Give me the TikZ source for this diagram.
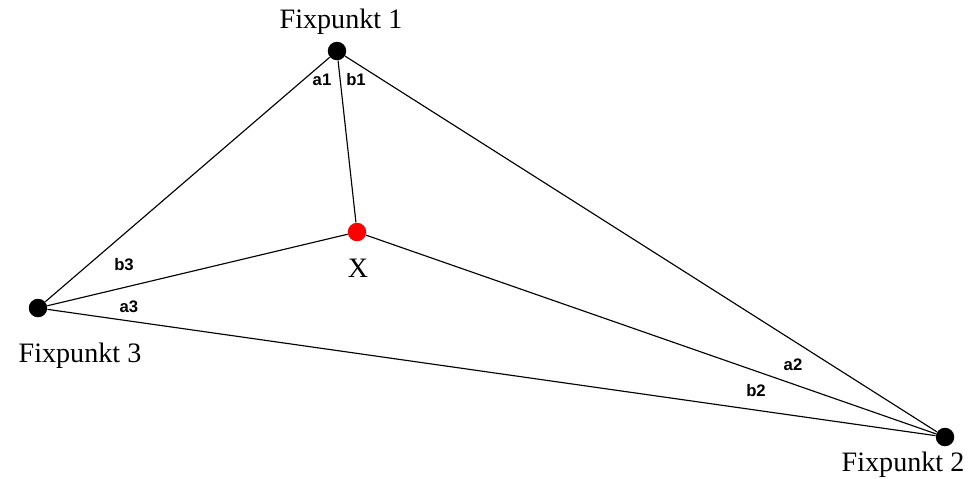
\documentclass[tikz,border=0pt]{standalone}
\usepackage{fontspec}
\setmainfont{Liberation Serif}
\newfontfamily\labelfont{Liberation Sans}
\usetikzlibrary{positioning}

\begin{document}
\begin{tikzpicture}[
    x=0.02cm, y=-0.02cm,
    dot/.style={circle, fill=black, inner sep=0pt, minimum size=0.37cm},
    xdot/.style={dot, fill=red},
    fixlabel/.style={font=\fontsize{16}{18}\selectfont},
    anglabel/.style={font=\labelfont\bfseries\fontsize{9.5}{11}\selectfont, inner sep=0pt},
    line/.style={line width=0.65pt}
]
\useasboundingbox (0,0) rectangle (971,478);
% fixed points and new point
\node[dot] (fp1) at (337,51) {};
\node[dot] (fp2) at (945,437) {};
\node[dot] (fp3) at (38,308) {};
\node[xdot] (x) at (357,232) {};
% names
\node[fixlabel] (lfp1) at (341,22) {Fixpunkt 1};
\node[fixlabel] (lfp2) at (903,465) {Fixpunkt 2};
\node[fixlabel] (lfp3) at (80,356) {Fixpunkt 3};
\node[fixlabel] (lx) at (358,268) {X};
% connections
\draw[line] (fp1) -- (fp2) -- (fp3) -- (fp1);
\draw[line] (x) -- (fp1);
\draw[line] (x) -- (fp2);
\draw[line] (x) -- (fp3);
% angles
\node[anglabel] (a1) at (322,80) {a1};
\node[anglabel] (b1) at (356,80) {b1};
\node[anglabel] (a2) at (793,365) {a2};
\node[anglabel] (b2) at (756,391) {b2};
\node[anglabel] (a3) at (129,307) {a3};
\node[anglabel] (b3) at (124,265) {b3};
\end{tikzpicture}
\end{document}
